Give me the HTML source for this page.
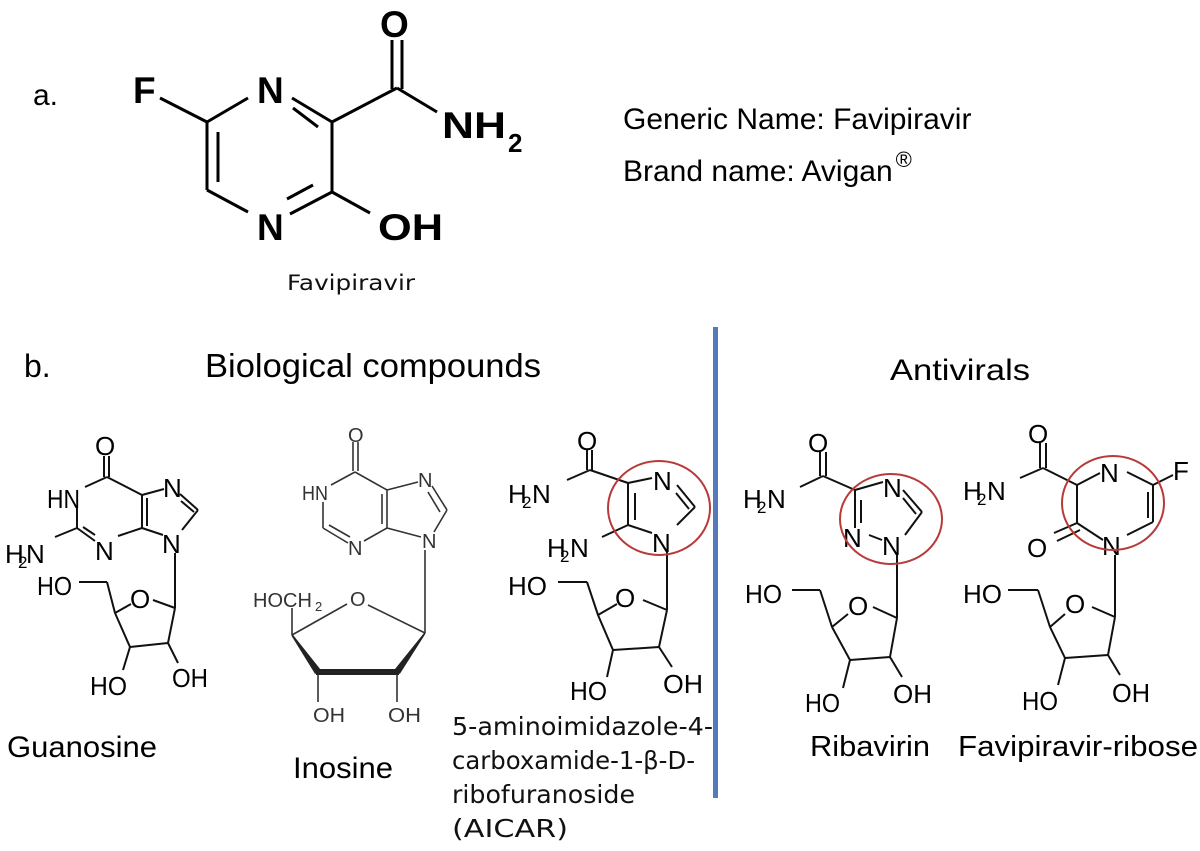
<!DOCTYPE html>
<html><head><meta charset="utf-8"><style>
html,body{margin:0;padding:0;background:#fff;}
svg{display:block;}
.s{font-family:"Liberation Sans",Arial,sans-serif;}
.b{font-family:"Liberation Sans",Arial,sans-serif;font-weight:bold;font-size:37px;fill:#000;}
.l{font-family:"Liberation Sans",Arial,sans-serif;font-size:26px;fill:#000;}
.li{font-family:"Liberation Sans",Arial,sans-serif;font-size:20px;fill:#333;}
.d{font-family:"DejaVu Sans","Liberation Sans",sans-serif;fill:#111;}
</style></head><body>
<svg width="1200" height="851" viewBox="0 0 1200 851" xmlns="http://www.w3.org/2000/svg">
<rect width="1200" height="851" fill="#fff"/>

<!-- Part a -->
<text class="s" x="33" y="105" font-size="30">a.</text>
<path fill="none" stroke="#000" stroke-width="3" d="M160 98 L207 122 M207 122 L248 98 M292 98 L332 122 M293 108 L318 127 M332 122 L332 192 M332 192 L290 214 M313 185 L287 199 M248 212 L207 190 M207 190 L207 122 M218 132 L218 182 M332 192 L370 213 M332 122 L397 88 M392 89 L392 40 M402 89 L402 40 M397 88 L437 112"/>
<text class="b" x="133" y="103">F</text>
<text class="b" x="257" y="103">N</text>
<text class="b" x="257" y="240">N</text>
<text class="b" x="378" y="240" textLength="65" lengthAdjust="spacingAndGlyphs">OH</text>
<text class="b" x="380" y="37">O</text>
<text class="b" x="442" y="138" textLength="64" lengthAdjust="spacingAndGlyphs">NH</text>
<text class="s" x="508" y="152" font-size="26" font-weight="bold">2</text>
<text class="d" x="287" y="290" font-size="21" textLength="128" lengthAdjust="spacingAndGlyphs">Favipiravir</text>

<text class="s" x="623" y="129" font-size="30">Generic Name: Favipiravir</text>
<text class="s" x="623" y="181" font-size="30">Brand name: Avigan<tspan font-size="22" dx="3" dy="-14">®</tspan></text>

<!-- Part b headers -->
<text class="s" x="24" y="377" font-size="32">b.</text>
<text class="s" x="205" y="377" font-size="33" textLength="336" lengthAdjust="spacingAndGlyphs">Biological compounds</text>
<text class="s" x="890" y="380" font-size="30" textLength="140" lengthAdjust="spacingAndGlyphs">Antivirals</text>

<rect x="713" y="327" width="5" height="471" fill="#5579ba"/>

<!-- Guanosine -->
<path fill="none" stroke="#111" stroke-width="2" d="M104 456 L104 477 M109 456 L109 477 M107 477 L85 487 M107 477 L142 495 M142 495 L142 528 M147 498 L147 526 M142 495 L164 489 M180 494 L198 510 M181 501 L194 512 M198 510 L182 530 M142 528 L163 535 M142 528 L118 536 M95 541 L77 528 M95 535 L83 527 M77 528 L77 508 M77 528 L55 537 M175 553 L175 608 M175 608 L168 643 M168 643 L130 647 M130 647 L115 613 M115 613 L131 604 M153 600 L175 608 M115 613 L107 582 M107 582 L79 582 M130 647 L123 670 M168 643 L178 663"/>
<text class="l" x="95" y="455">O</text>
<text class="l" x="47" y="508" textLength="33" lengthAdjust="spacingAndGlyphs">HN</text>
<text class="l" x="163" y="497">N</text>
<text class="l" x="162" y="553">N</text>
<text class="l" x="95" y="560">N</text>
<text class="l" x="5" y="563">H</text><text class="s" x="18" y="568" font-size="17">2</text><text class="l" x="26" y="563">N</text>
<text class="l" x="130" y="608">O</text>
<text class="l" x="37" y="595" textLength="35" lengthAdjust="spacingAndGlyphs">HO</text>
<text class="l" x="90" y="695" textLength="37" lengthAdjust="spacingAndGlyphs">HO</text>
<text class="l" x="172" y="687" textLength="36" lengthAdjust="spacingAndGlyphs">OH</text>
<text class="s" x="7" y="757" font-size="30" textLength="150" lengthAdjust="spacingAndGlyphs">Guanosine</text>

<!-- Inosine -->
<path fill="none" stroke="#333" stroke-width="1.6" d="M353 442 L353 471 M358 442 L358 471 M355 472 L331 485 M355 472 L387 490 M387 490 L387 528 M382 494 L382 524 M387 490 L418 482 M432 486 L447 510 M428 492 L440 512 M447 510 L434 532 M387 528 L421 537 M387 528 L364 541 M348 543 L323 528 M350 537 L329 525 M323 528 L323 502 M425 550 L425 633 M292 635 L347 604 M368 605 L425 633 M292 635 L292 608 M318 672 L318 702 M397 672 L397 702"/>
<polygon fill="#222" points="291.3,635.5 292.7,634.5 320.9,670 315.1,674"/>
<line x1="316" y1="672" x2="399" y2="672" stroke="#222" stroke-width="6"/>
<polygon fill="#222" points="424.4,632.5 425.6,633.5 399.8,674 394.2,670"/>
<text class="li" x="348" y="442">O</text>
<text class="li" x="302" y="500" textLength="26" lengthAdjust="spacingAndGlyphs">HN</text>
<text class="li" x="418" y="487">N</text>
<text class="li" x="422" y="548">N</text>
<text class="li" x="348" y="555">N</text>
<text class="li" x="253" y="607">HOCH</text><text class="s" x="315" y="611" font-size="13" fill="#333">2</text>
<text class="li" x="350" y="606">O</text>
<text class="li" x="313" y="722" textLength="32" lengthAdjust="spacingAndGlyphs">OH</text>
<text class="li" x="388" y="722" textLength="33" lengthAdjust="spacingAndGlyphs">OH</text>
<text class="s" x="293" y="778" font-size="30" textLength="100" lengthAdjust="spacingAndGlyphs">Inosine</text>

<!-- AICAR -->
<path fill="none" stroke="#111" stroke-width="2" d="M587 450 L587 470 M592 450 L592 470 M590 470 L567 480 M590 470 L628 483 M628 483 L652 478 M677 485 L695 507 M676 493 L689 509 M695 507 L677 525 M628 483 L628 525 M635 493 L635 520 M628 525 L652 533 M628 525 L602 537 M667 552 L667 610 M667 610 L659 647 M659 647 L613 650 M613 650 L598 615 M598 615 L617 604 M643 600 L667 610 M598 615 L587 582 M587 582 L558 582 M613 650 L607 677 M659 647 L672 667"/>
<text class="l" x="577" y="450">O</text>
<text class="l" x="508" y="503">H</text><text class="s" x="522" y="508" font-size="17">2</text><text class="l" x="532" y="503">N</text>
<text class="l" x="653" y="490">N</text>
<text class="l" x="652" y="552">N</text>
<text class="l" x="547" y="557">H</text><text class="s" x="560" y="562" font-size="17">2</text><text class="l" x="570" y="557">N</text>
<text class="l" x="615" y="607">O</text>
<text class="l" x="508" y="595" textLength="39" lengthAdjust="spacingAndGlyphs">HO</text>
<text class="l" x="570" y="700" textLength="37" lengthAdjust="spacingAndGlyphs">HO</text>
<text class="l" x="663" y="693" textLength="40" lengthAdjust="spacingAndGlyphs">OH</text>
<ellipse cx="659" cy="508" rx="51" ry="47" fill="none" stroke="#b83a3a" stroke-width="2"/>
<text class="d" x="452" y="735" font-size="25" textLength="261" lengthAdjust="spacingAndGlyphs">5-aminoimidazole-4-</text>
<text class="d" x="452" y="769" font-size="25" textLength="243" lengthAdjust="spacingAndGlyphs">carboxamide-1-β-D-</text>
<text class="d" x="452" y="803" font-size="25" textLength="183" lengthAdjust="spacingAndGlyphs">ribofuranoside</text>
<text class="d" x="452" y="837" font-size="25" textLength="116" lengthAdjust="spacingAndGlyphs">(AICAR)</text>

<!-- Ribavirin -->
<path fill="none" stroke="#111" stroke-width="2" d="M820 452 L820 476 M826 452 L826 476 M823 476 L800 487 M823 476 L855 490 M855 490 L883 482 M903 490 L922 512 M903 498 L916 514 M922 512 L905 535 M855 490 L855 528 M861 500 L861 523 M869 535 L882 540 M897 555 L897 618 M897 618 L890 657 M890 657 L850 660 M850 660 L832 627 M832 627 L848 614 M873 607 L897 618 M832 627 L820 590 M820 590 L792 590 M850 660 L843 688 M890 657 L902 677"/>
<text class="l" x="808" y="452">O</text>
<text class="l" x="743" y="508">H</text><text class="s" x="757" y="513" font-size="17">2</text><text class="l" x="767" y="508">N</text>
<text class="l" x="883" y="497">N</text>
<text class="l" x="843" y="547">N</text>
<text class="l" x="882" y="555">N</text>
<text class="l" x="848" y="615">O</text>
<text class="l" x="745" y="603" textLength="37" lengthAdjust="spacingAndGlyphs">HO</text>
<text class="l" x="805" y="712" textLength="35" lengthAdjust="spacingAndGlyphs">HO</text>
<text class="l" x="893" y="703" textLength="39" lengthAdjust="spacingAndGlyphs">OH</text>
<ellipse cx="891" cy="519" rx="51" ry="45" fill="none" stroke="#b83a3a" stroke-width="2"/>
<text class="s" x="810" y="756" font-size="29" textLength="120" lengthAdjust="spacingAndGlyphs">Ribavirin</text>

<!-- Favipiravir-ribose -->
<path fill="none" stroke="#111" stroke-width="2" d="M1040 443 L1040 468 M1046 443 L1046 468 M1043 468 L1020 478 M1043 468 L1077 485 M1077 485 L1100 473 M1127 472 L1153 485 M1153 485 L1173 475 M1153 485 L1153 522 M1148 492 L1148 518 M1153 522 L1127 535 M1103 540 L1077 523 M1077 485 L1077 523 M1077 523 L1054 533 M1080 530 L1057 541 M1115 555 L1115 617 M1115 617 L1108 655 M1108 655 L1065 658 M1065 658 L1050 627 M1050 627 L1065 614 M1092 607 L1115 617 M1050 627 L1038 590 M1038 590 L1008 590 M1065 658 L1058 685 M1108 655 L1120 675"/>
<text class="l" x="1028" y="443">O</text>
<text class="l" x="963" y="500">H</text><text class="s" x="977" y="505" font-size="17">2</text><text class="l" x="987" y="500">N</text>
<text class="l" x="1100" y="482">N</text>
<text class="l" x="1173" y="480">F</text>
<text class="l" x="1102" y="555">N</text>
<text class="l" x="1027" y="557">O</text>
<text class="l" x="1065" y="613">O</text>
<text class="l" x="963" y="603" textLength="39" lengthAdjust="spacingAndGlyphs">HO</text>
<text class="l" x="1022" y="710" textLength="36" lengthAdjust="spacingAndGlyphs">HO</text>
<text class="l" x="1112" y="702" textLength="38" lengthAdjust="spacingAndGlyphs">OH</text>
<ellipse cx="1113" cy="503" rx="51" ry="47" fill="none" stroke="#b83a3a" stroke-width="2"/>
<text class="s" x="958" y="756" font-size="29" textLength="240" lengthAdjust="spacingAndGlyphs">Favipiravir-ribose</text>
</svg>
</body></html>
